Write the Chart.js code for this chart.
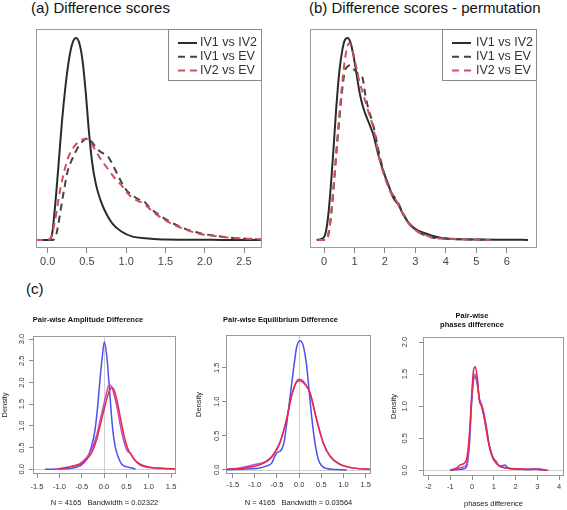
<!DOCTYPE html>
<html>
<head>
<meta charset="utf-8">
<script src="https://cdn.jsdelivr.net/npm/chart.js@4/dist/chart.umd.min.js"></script>
<style>
  html, body { margin: 0; padding: 0; background: #fff; }
  body { width: 567px; height: 510px; position: relative; overflow: hidden; font-family: "Liberation Sans", Arial, sans-serif; }
  canvas { position: absolute; }
  .lbl { position: absolute; font-size: 15px; line-height: 16px; color: #111; white-space: nowrap; }
</style>
</head>
<body>
<div class="lbl" style="left:31px;top:0px">(a) Difference scores</div>
<div class="lbl" style="left:309px;top:0px">(b) Difference scores - permutation</div>
<div class="lbl" style="left:26px;top:281px">(c)</div>
<canvas id="chartA" width="283" height="278" style="left:0;top:0"></canvas>
<canvas id="chartB" width="284" height="278" style="left:283px;top:0"></canvas>
<canvas id="chartC1" width="190" height="205" style="left:0;top:305px"></canvas>
<canvas id="chartC2" width="190" height="205" style="left:190px;top:305px"></canvas>
<canvas id="chartC3" width="187" height="205" style="left:380px;top:305px"></canvas>
<script>
const FONT = "'Liberation Sans', Arial, sans-serif";

// (a) Difference scores
const seriesNames = ["IV1 vs IV2", "IV1 vs EV", "IV2 vs EV"];
const aTicks = [0, 0.5, 1, 1.5, 2, 2.5];
const aSolidX = [-0.149, 0.021, 0.055, 0.084, 0.114, 0.148, 0.182, 0.224, 0.267, 0.309, 0.36, 0.402, 0.445, 0.487, 0.521, 0.564, 0.615, 0.678, 0.742, 0.827, 0.933, 1.081, 1.251, 1.4, 1.505, 1.8, 2.1, 2.4, 2.729];
const aSolidY = [0, 0, 0.079, 0.376, 0.772, 1.267, 1.762, 2.257, 2.653, 2.901, 3.0, 2.926, 2.653, 2.158, 1.663, 1.168, 0.822, 0.574, 0.401, 0.24, 0.13, 0.05, 0.025, 0.012, 0.006, 0.003, 0.002, 0.001, 0];
const aDarkX = [-0.149, 0.06, 0.097, 0.127, 0.169, 0.212, 0.254, 0.318, 0.381, 0.445, 0.509, 0.572, 0.636, 0.699, 0.763, 0.805, 0.869, 0.933, 0.996, 1.081, 1.166, 1.22, 1.3, 1.42, 1.514, 1.72, 1.94, 2.15, 2.36, 2.55, 2.729];
const aDarkY = [0, 0, 0.03, 0.178, 0.475, 0.772, 1.02, 1.218, 1.366, 1.465, 1.515, 1.441, 1.342, 1.292, 1.243, 1.168, 1.02, 0.871, 0.748, 0.66, 0.6, 0.58, 0.48, 0.37, 0.3, 0.18, 0.1, 0.06, 0.03, 0.015, 0.005];
const aRedX = [-0.149, 0.021, 0.055, 0.084, 0.114, 0.148, 0.19, 0.233, 0.275, 0.339, 0.402, 0.487, 0.551, 0.615, 0.678, 0.742, 0.805, 0.869, 0.933, 0.996, 1.081, 1.166, 1.22, 1.3, 1.42, 1.514, 1.72, 1.94, 2.15, 2.36, 2.55, 2.729];
const aRedY = [0, 0.01, 0.079, 0.228, 0.426, 0.673, 0.921, 1.119, 1.267, 1.391, 1.465, 1.505, 1.441, 1.317, 1.193, 1.094, 0.995, 0.896, 0.822, 0.723, 0.624, 0.57, 0.55, 0.46, 0.35, 0.28, 0.17, 0.09, 0.055, 0.03, 0.02, 0.01];

// (b) Difference scores - permutation
const bTicks = [0, 1, 2, 3, 4, 5, 6];
const bSolidX = [-0.241, -0.022, 0.066, 0.142, 0.219, 0.306, 0.394, 0.504, 0.613, 0.69, 0.777, 0.876, 0.963, 1.073, 1.182, 1.292, 1.456, 1.62, 1.784, 1.949, 2.113, 2.277, 2.441, 2.605, 2.824, 3.043, 3.317, 3.645, 4.0, 4.5, 5.0, 6.0, 6.7];
const bSolidY = [0, 0.006, 0.026, 0.075, 0.154, 0.263, 0.382, 0.501, 0.57, 0.595, 0.6, 0.585, 0.55, 0.491, 0.432, 0.392, 0.352, 0.313, 0.253, 0.204, 0.164, 0.125, 0.105, 0.075, 0.046, 0.03, 0.02, 0.01, 0.004, 0.002, 0.001, 0.0005, 0];
const bDarkX = [-0.2, 0.088, 0.175, 0.252, 0.328, 0.416, 0.504, 0.591, 0.679, 0.766, 0.854, 0.95, 1.05, 1.16, 1.259, 1.36, 1.456, 1.62, 1.839, 2.003, 2.222, 2.386, 2.551, 2.769, 3.043, 3.317, 3.645, 4.0, 4.5, 5.0, 5.45];
const bDarkY = [0, 0, 0.03, 0.09, 0.17, 0.27, 0.36, 0.44, 0.5, 0.515, 0.519, 0.51, 0.5, 0.49, 0.483, 0.43, 0.39, 0.34, 0.245, 0.19, 0.14, 0.118, 0.088, 0.052, 0.027, 0.014, 0.006, 0.004, 0.002, 0.001, 0];
const bRedX = [-0.2, 0.088, 0.175, 0.252, 0.328, 0.416, 0.504, 0.591, 0.679, 0.766, 0.832, 0.92, 1.018, 1.161, 1.292, 1.456, 1.62, 1.839, 2.003, 2.222, 2.386, 2.551, 2.769, 3.043, 3.317, 3.645, 4.0, 4.5, 5.0, 5.45];
const bRedY = [0, 0, 0.036, 0.095, 0.174, 0.273, 0.372, 0.461, 0.531, 0.575, 0.585, 0.57, 0.531, 0.471, 0.432, 0.382, 0.333, 0.234, 0.184, 0.135, 0.115, 0.085, 0.05, 0.026, 0.014, 0.006, 0.004, 0.002, 0.001, 0];

// (c) pair-wise differences: blue, magenta, red curves
const cXTicks = [-1.5, -1, -0.5, 0, 0.5, 1, 1.5];
const c1YTicks = [0, 0.5, 1, 1.5, 2, 2.5, 3];
const c1BlueX = [-1.32, -0.9, -0.7, -0.537, -0.388, -0.276, -0.2, -0.142, -0.09, -0.045, 0.007, 0.06, 0.104, 0.149, 0.194, 0.246, 0.321, 0.396, 0.508, 0.62, 0.7];
const c1BlueY = [0, 0.01, 0.03, 0.077, 0.23, 0.54, 0.92, 1.46, 2.08, 2.54, 2.94, 2.62, 2.08, 1.46, 0.92, 0.54, 0.27, 0.115, 0.054, 0.03, 0];
const c1MagX = [-1.1, -0.76, -0.54, -0.39, -0.28, -0.16, -0.09, -0.015, 0.06, 0.112, 0.17, 0.23, 0.3, 0.37, 0.45, 0.52, 0.6, 0.68, 0.8, 1.0, 1.3, 1.6];
const c1MagY = [0, 0.06, 0.13, 0.27, 0.45, 0.8, 1.12, 1.45, 1.78, 1.94, 1.9, 1.7, 1.38, 0.98, 0.62, 0.42, 0.36, 0.22, 0.1, 0.04, 0.015, 0.005];
const c1RedX = [-1.0, -0.761, -0.537, -0.388, -0.276, -0.164, -0.09, -0.015, 0.06, 0.119, 0.172, 0.231, 0.298, 0.373, 0.448, 0.522, 0.597, 0.672, 0.806, 0.99, 1.3, 1.6];
const c1RedY = [0, 0.054, 0.115, 0.23, 0.38, 0.69, 1.0, 1.31, 1.615, 1.81, 1.885, 1.81, 1.54, 1.15, 0.77, 0.5, 0.346, 0.23, 0.115, 0.054, 0.02, 0.005];

const c2YTicks = [0, 0.5, 1, 1.5];
const c2BlueX = [-1.65, -0.957, -0.73, -0.62, -0.545, -0.493, -0.417, -0.342, -0.268, -0.192, -0.117, -0.057, 0.018, 0.093, 0.168, 0.228, 0.288, 0.356, 0.43, 0.507, 0.619, 0.85, 1.07];
const c2BlueY = [0.005, 0.02, 0.06, 0.1, 0.206, 0.256, 0.28, 0.4, 0.745, 1.138, 1.53, 1.8, 1.897, 1.82, 1.53, 1.138, 0.745, 0.4, 0.157, 0.06, 0.02, 0.005, 0];
const c2MagX = [-1.65, -1.33, -1.0, -0.8, -0.658, -0.55, -0.432, -0.282, -0.169, -0.06, 0.0, 0.06, 0.15, 0.243, 0.394, 0.543, 0.694, 0.919, 1.2, 1.62];
const c2MagY = [0.01, 0.03, 0.08, 0.11, 0.17, 0.26, 0.41, 0.75, 1.1, 1.3, 1.33, 1.32, 1.25, 1.13, 0.73, 0.39, 0.2, 0.08, 0.03, 0.01];
const c2RedX = [-1.65, -1.33, -0.96, -0.8, -0.658, -0.55, -0.432, -0.282, -0.169, -0.06, 0.0, 0.06, 0.15, 0.243, 0.394, 0.543, 0.694, 0.919, 1.2, 1.62];
const c2RedY = [0.005, 0.02, 0.06, 0.1, 0.16, 0.25, 0.4, 0.745, 1.09, 1.285, 1.31, 1.3, 1.24, 1.14, 0.745, 0.4, 0.206, 0.084, 0.03, 0.01];

const c3XTicks = [-2, -1, 0, 1, 2, 3, 4];
const c3YTicks = [0, 0.5, 1, 1.5, 2];
const c3BlueX = [-1.01, -0.63, -0.4, -0.245, -0.122, -0.015, 0.06, 0.138, 0.245, 0.336, 0.443, 0.55, 0.673, 0.795, 0.948, 1.1, 1.28, 1.51, 1.67, 2.05, 2.66, 3.1, 3.4];
const c3BlueY = [0, 0.01, 0.02, 0.06, 0.39, 1.07, 1.38, 1.46, 1.33, 1.12, 1.02, 0.885, 0.65, 0.39, 0.21, 0.14, 0.06, 0.08, 0.03, 0.02, 0.01, 0.02, 0];
const c3MagX = [-1.01, -0.6, -0.4, -0.245, -0.122, -0.015, 0.06, 0.12, 0.245, 0.336, 0.443, 0.55, 0.673, 0.795, 0.948, 1.1, 1.3, 1.6, 2.0, 2.5, 3.0, 3.4];
const c3MagY = [0, 0.03, 0.05, 0.1, 0.5, 1.12, 1.45, 1.5, 1.38, 1.1, 1.0, 0.84, 0.6, 0.38, 0.2, 0.12, 0.06, 0.03, 0.02, 0.015, 0.01, 0];
const c3RedX = [-1.01, -0.7, -0.55, -0.4, -0.245, -0.122, -0.015, 0.06, 0.153, 0.245, 0.336, 0.443, 0.596, 0.75, 0.902, 1.055, 1.284, 1.59, 2.05, 2.5, 2.89, 3.27, 3.5];
const c3RedY = [0, 0.037, 0.08, 0.1, 0.18, 0.55, 1.17, 1.54, 1.615, 1.43, 1.09, 0.99, 0.755, 0.44, 0.234, 0.13, 0.062, 0.035, 0.02, 0.012, 0.02, 0.005, 0];

function pts(xs, ys) {
  return xs.map(function (x, i) { return { x: x, y: ys[i] }; });
}
function fixTicks(list) {
  return function (scale) { scale.ticks = list.map(function (v) { return { value: v }; }); };
}

// R style box round the plot region, plus faint zero lines
const rBox = {
  id: "rBox",
  beforeDatasetsDraw(chart, args, opts) {
    const ctx = chart.ctx, a = chart.chartArea;
    ctx.save();
    ctx.strokeStyle = "#cfcfcf";
    ctx.lineWidth = 1;
    if (opts.zeroH) {
      const py = Math.round(chart.scales.y.getPixelForValue(0)) + 0.5;
      ctx.beginPath(); ctx.moveTo(a.left, py); ctx.lineTo(a.right, py); ctx.stroke();
    }
    if (opts.zeroV) {
      const px = Math.round(chart.scales.x.getPixelForValue(0)) + 0.5;
      ctx.beginPath(); ctx.moveTo(px, a.top); ctx.lineTo(px, a.bottom); ctx.stroke();
    }
    ctx.restore();
  },
  afterDatasetsDraw(chart) {
    const ctx = chart.ctx, a = chart.chartArea;
    ctx.save();
    ctx.strokeStyle = "#9a9a9a";
    ctx.lineWidth = 1;
    ctx.strokeRect(Math.round(a.left) + 0.5, Math.round(a.top) + 0.5, Math.round(a.right - a.left) - 1, Math.round(a.bottom - a.top) - 1);
    ctx.restore();
  }
};

// legend box in the top right corner of the plot
const rLegend = {
  id: "rLegend",
  afterDraw(chart, args, opts) {
    if (!opts.show) return;
    const ctx = chart.ctx, a = chart.chartArea;
    const left = Math.round(a.right - opts.width), top = Math.round(a.top);
    ctx.save();
    ctx.fillStyle = "#fff";
    ctx.fillRect(left, top, opts.width, opts.height);
    ctx.strokeStyle = "#8a8a8a";
    ctx.lineWidth = 1;
    ctx.strokeRect(left + 0.5, top + 0.5, opts.width - 1, opts.height - 1);
    ctx.font = "12.5px " + FONT;
    ctx.textBaseline = "middle";
    chart.data.datasets.forEach(function (ds, i) {
      const y = top + 14 + i * 13.7;
      ctx.strokeStyle = ds.borderColor;
      ctx.lineWidth = ds.borderWidth;
      ctx.setLineDash(ds.borderDash || []);
      ctx.beginPath();
      ctx.moveTo(left + 10, y);
      ctx.lineTo(left + 29, y);
      ctx.stroke();
      ctx.setLineDash([]);
      ctx.fillStyle = "#333";
      ctx.fillText(ds.label, left + opts.textAt, y);
    });
    ctx.restore();
  }
};

function topChart(id, solid, dark, red, xr, yr, ticks, digits, pad, textAt) {
  const line = function (label, d, color, dash, order) {
    return { label: label, data: d, borderColor: color, borderWidth: 2, borderDash: dash,
      pointRadius: 0, fill: false, cubicInterpolationMode: "monotone", order: order };
  };
  return new Chart(document.getElementById(id), {
    type: "line",
    data: {
      datasets: [
        line(seriesNames[0], solid, "#2b2b2b", [], 2),
        line(seriesNames[1], dark, "#444444", [7, 5], 1),
        line(seriesNames[2], red, "#d0505c", [7, 5], 0)
      ]
    },
    options: {
      responsive: false,
      animation: false,
      events: [],
      layout: { padding: pad },
      plugins: {
        legend: { display: false },
        tooltip: { enabled: false },
        rBox: {},
        rLegend: { show: true, width: pad.legendW, height: 52, textAt: textAt }
      },
      scales: {
        x: {
          type: "linear", min: xr[0], max: xr[1],
          afterBuildTicks: fixTicks(ticks),
          afterFit: function (s) { s.height = 30; },
          grid: { drawOnChartArea: false, drawTicks: true, tickLength: 5, color: "#8a8a8a" },
          border: { display: false },
          ticks: { autoSkip: false, maxRotation: 0, padding: 2.4, color: "#444",
            font: { family: FONT, size: 11 },
            callback: function (v) { return v.toFixed(digits); } }
        },
        y: { display: false, min: yr[0], max: yr[1] }
      }
    },
    plugins: [rBox, rLegend]
  });
}

topChart("chartA", pts(aSolidX, aSolidY), pts(aDarkX, aDarkY), pts(aRedX, aRedY),
  [-0.149, 2.729], [-0.119, 3.134], aTicks, 1,
  { left: 36, right: 21, top: 29, bottom: 0, legendW: 94 }, 32);
topChart("chartB", pts(bSolidX, bSolidY), pts(bDarkX, bDarkY), pts(bRedX, bRedY),
  [-0.46, 6.995], [-0.024, 0.627], bTicks, 0,
  { left: 27, right: 30, top: 29, bottom: 0, legendW: 95 }, 34);

function densChart(id, blue, mag, red, c) {
  const line = function (d, color, order) {
    return { label: "", data: d, borderColor: color, borderWidth: 1.5, pointRadius: 0,
      fill: false, cubicInterpolationMode: "monotone", order: order };
  };
  const small = { family: FONT, size: 7.5 };
  return new Chart(document.getElementById(id), {
    type: "line",
    data: { datasets: [line(blue, "#4f4ff0", 2), line(mag, "#c448c8", 1), line(red, "#e32a44", 0)] },
    options: {
      responsive: false,
      animation: false,
      events: [],
      layout: { padding: { left: 0, right: c.padRight, top: 0, bottom: 0 } },
      plugins: {
        legend: { display: false },
        tooltip: { enabled: false },
        title: { display: true, text: c.title, color: "#111",
          font: { family: FONT, size: 7.5, weight: "bold", lineHeight: 1.2 },
          padding: c.titlePad },
        rBox: { zeroH: true, zeroV: c.zeroV },
        rLegend: { show: false }
      },
      scales: {
        x: {
          type: "linear", min: c.xr[0], max: c.xr[1],
          afterBuildTicks: fixTicks(c.xTicks),
          afterFit: function (s) { s.height = c.xHeight; },
          grid: { drawOnChartArea: false, drawTicks: true, tickLength: 4, color: "#8a8a8a" },
          border: { display: false },
          ticks: { autoSkip: false, maxRotation: 0, padding: c.xTickPad, color: "#333", font: small,
            callback: function (v) { return v.toFixed(c.xDigits); } },
          title: { display: true, text: c.xTitle, color: "#222", font: small,
            padding: { top: 0, bottom: c.xTitlePad } }
        },
        y: {
          min: c.yr[0], max: c.yr[1],
          afterBuildTicks: fixTicks(c.yTicks),
          afterFit: function (s) { s.width = c.yWidth; },
          grid: { drawOnChartArea: false, drawTicks: true, tickLength: 4, color: "#8a8a8a" },
          border: { display: false },
          ticks: { autoSkip: false, minRotation: 90, maxRotation: 90, crossAlign: "center",
            padding: c.yTickPad, color: "#333", font: small,
            callback: function (v) { return v.toFixed(1); } },
          title: { display: true, text: "Density", color: "#222", font: small,
            padding: { top: c.yTitlePad, bottom: 0 } }
        }
      }
    },
    plugins: [rBox, rLegend]
  });
}

densChart("chartC1", pts(c1BlueX, c1BlueY), pts(c1MagX, c1MagY), pts(c1RedX, c1RedY), {
  title: "Pair-wise Amplitude Difference", titlePad: { top: 10.5, bottom: 11.5 },
  xTitle: "N = 4165   Bandwidth = 0.02322", xr: [-1.59, 1.61], yr: [-0.11, 3.07],
  xTicks: cXTicks, yTicks: c1YTicks, xDigits: 1, zeroV: true, padRight: 14,
  yWidth: 33, xHeight: 36, xTickPad: 4.5, xTitlePad: 2.5, yTickPad: 2, yTitlePad: 0.5
});
densChart("chartC2", pts(c2BlueX, c2BlueY), pts(c2MagX, c2MagY), pts(c2RedX, c2RedY), {
  title: "Pair-wise Equilibrium Difference", titlePad: { top: 10.5, bottom: 10.5 },
  xTitle: "N = 4165   Bandwidth = 0.03564", xr: [-1.65, 1.62], yr: [-0.06, 1.98],
  xTicks: cXTicks, yTicks: c2YTicks, xDigits: 1, zeroV: true, padRight: 9,
  yWidth: 36, xHeight: 36, xTickPad: 2.5, xTitlePad: 2.5, yTickPad: 0, yTitlePad: 4.5
});
densChart("chartC3", pts(c3BlueX, c3BlueY), pts(c3MagX, c3MagY), pts(c3RedX, c3RedY), {
  title: ["Pair-wise", "phases difference"], titlePad: { top: 6.5, bottom: 7.5 },
  xTitle: "phases difference", xr: [-2.25, 4.22], yr: [-0.09, 2.08],
  xTicks: c3XTicks, yTicks: c3YTicks, xDigits: 0, zeroV: false, padRight: 3,
  yWidth: 43, xHeight: 34, xTickPad: 2.2, xTitlePad: 1.5, yTickPad: 9, yTitlePad: 9.5
});
</script>
</body>
</html>
